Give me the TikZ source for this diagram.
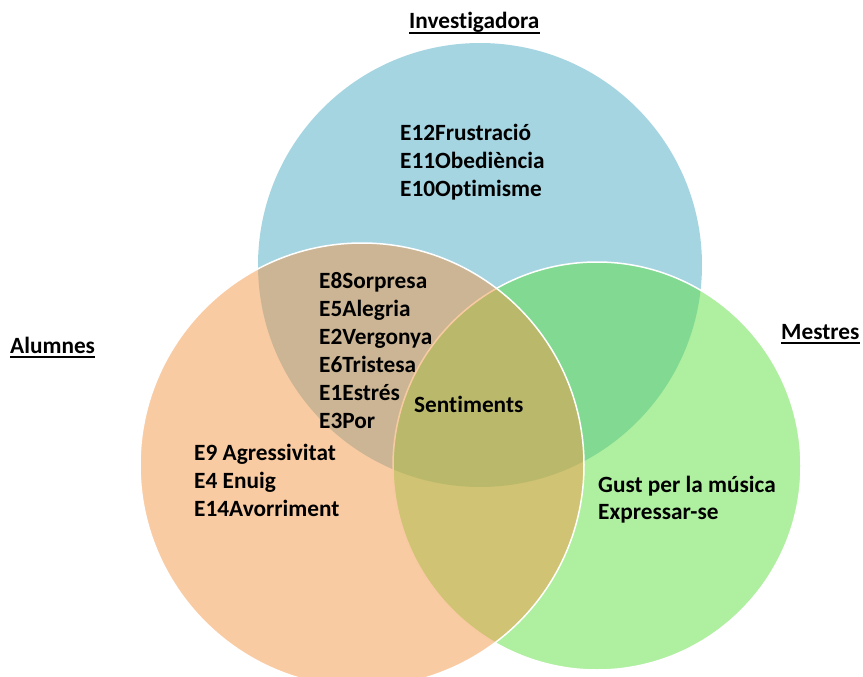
\documentclass[tikz,border=0pt]{standalone}
\usepackage{fontspec}
\setmainfont[Ligatures=NoCommon]{Carlito}
\definecolor{cblue}{RGB}{77,171,197}
\definecolor{cgreen}{RGB}{95,223,65}
\definecolor{corange}{RGB}{243,151,71}
\begin{document}
\begin{tikzpicture}[x=1pt,y=-1pt,
  txt/.style={font=\bfseries\fontsize{23.3}{28}\selectfont, anchor=base west, inner sep=0pt, text=black},
  setc/.style={fill opacity=.5, draw=white, line width=1.5pt},
  uline/.style={line width=1.6pt}]
\useasboundingbox (0,0) rectangle (863,677);
% circles
\fill[cblue, fill opacity=.5] (480,265) circle (222pt);
\path[setc, fill=cgreen] (597,466) circle (204pt);
\path[setc, fill=corange] (362,465) circle (222pt);
% titles
\node[txt] (inv) at (409,29) {Investigadora};
\node[txt] (alu) at (10,353) {Alumnes};
\node[txt] (mes) at (781,339) {Mestres};
\foreach \n in {inv,alu,mes}
  \draw[uline] ([yshift=-4pt]\n.base west) -- ([yshift=-4pt]\n.base east);
% blue only
\node[txt] (b1) at (400,140) {E12Frustració};
\node[txt] (b2) at (400,168) {E11Obediència};
\node[txt] (b3) at (400,196) {E10Optimisme};
% blue & orange
\node[txt] (bo1) at (319,288) {E8Sorpresa};
\node[txt] (bo2) at (319,316) {E5Alegria};
\node[txt] (bo3) at (319,344) {E2Vergonya};
\node[txt] (bo4) at (319,372) {E6Tristesa};
\node[txt] (bo5) at (319,400) {E1Estrés};
\node[txt] (bo6) at (319,428) {E3Por};
% centre
\node[txt] (c) at (414,412) {Sentiments};
% orange only
\node[txt] (o1) at (194,460) {E9 Agressivitat};
\node[txt] (o2) at (194,488) {E4 Enuig};
\node[txt] (o3) at (194,516) {E14Avorriment};
% green only
\node[txt] (g1) at (598,492) {Gust per la música};
\node[txt] (g2) at (598,519) {Expressar-se};
\end{tikzpicture}
\end{document}
